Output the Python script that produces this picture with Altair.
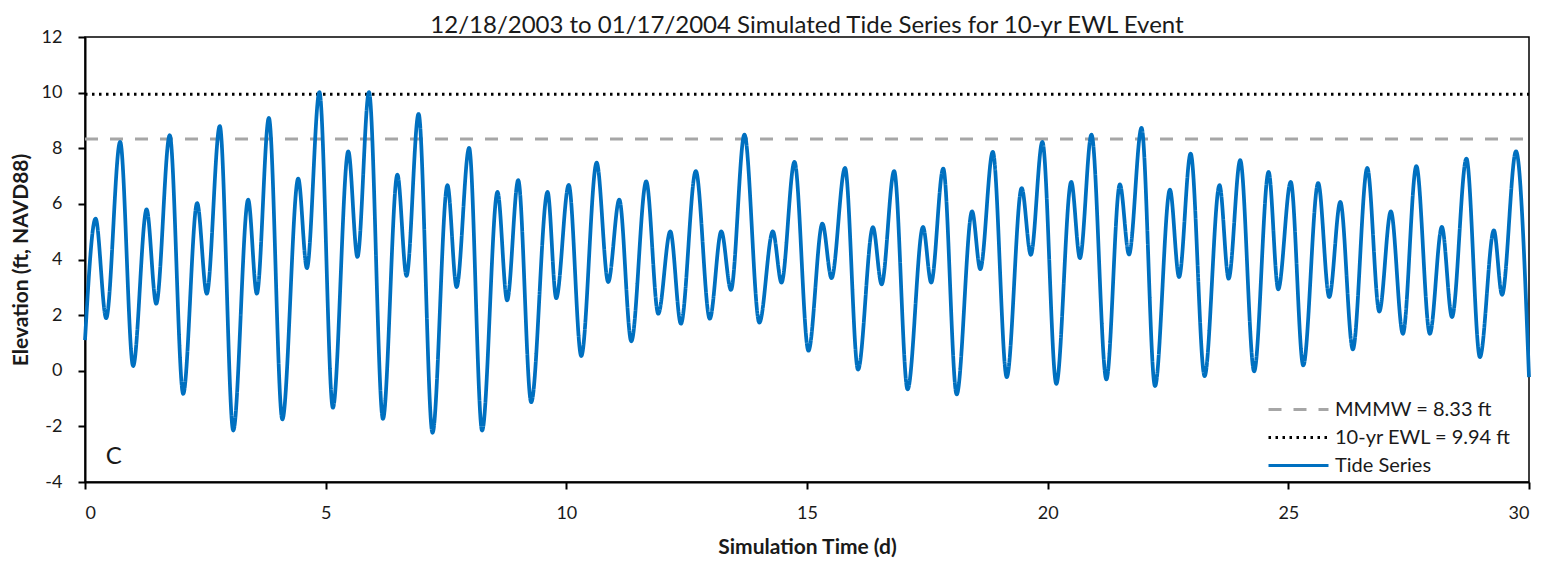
import altair as alt
import pandas as pd

chart_title = "12/18/2003 to 01/17/2004 Simulated Tide Series for 10-yr EWL Event"

# Tide series turning points (time in days, elevation in ft NAVD88)
time_d = [0.00, 0.22, 0.44, 0.73, 1.00, 1.28, 1.48, 1.76, 2.04, 2.33,
          2.53, 2.80, 3.08, 3.39, 3.57, 3.82, 4.10, 4.43, 4.61, 4.87,
          5.15, 5.47, 5.66, 5.90, 6.19, 6.49, 6.68, 6.93, 7.22, 7.53,
          7.72, 7.98, 8.25, 8.57, 8.77, 9.00, 9.27, 9.61, 9.79, 10.05,
          10.31, 10.63, 10.87, 11.10, 11.35, 11.66, 11.91, 12.16, 12.38, 12.69,
          12.98, 13.22, 13.42, 13.70, 14.01, 14.29, 14.47, 14.74, 15.03, 15.32,
          15.51, 15.79, 16.06, 16.37, 16.55, 16.81, 17.09, 17.41, 17.58, 17.83,
          18.11, 18.43, 18.60, 18.86, 19.15, 19.46, 19.65, 19.89, 20.18, 20.49,
          20.67, 20.91, 21.22, 21.50, 21.69, 21.95, 22.23, 22.54, 22.73, 22.97,
          23.26, 23.57, 23.76, 24.00, 24.29, 24.59, 24.79, 25.05, 25.31, 25.62,
          25.85, 26.08, 26.34, 26.64, 26.89, 27.13, 27.38, 27.66, 27.94, 28.19,
          28.40, 28.70, 28.98, 29.27, 29.44, 29.73, 30.00]

elev_ft = [1.10, 5.47, 1.89, 8.23, 0.17, 5.80, 2.41, 8.47, -0.83, 6.03,
           2.77, 8.80, -2.15, 6.15, 2.77, 9.09, -1.75, 6.91, 3.69, 10.02,
           -1.33, 7.89, 4.09, 10.02, -1.73, 7.05, 3.41, 9.24, -2.23, 6.67,
           3.01, 8.01, -2.15, 6.43, 2.53, 6.85, -1.13, 6.43, 2.61, 6.68,
           0.53, 7.48, 3.19, 6.15, 1.06, 6.81, 2.05, 5.01, 1.69, 7.18,
           1.87, 5.01, 2.91, 8.49, 1.73, 5.01, 3.17, 7.51, 0.72, 5.29,
           3.33, 7.29, 0.04, 5.16, 3.11, 7.18, -0.67, 5.17, 3.17, 7.27,
           -0.85, 5.73, 3.65, 7.87, -0.23, 6.57, 4.17, 8.23, -0.47, 6.79,
           4.05, 8.49, -0.31, 6.70, 4.18, 8.73, -0.55, 6.51, 3.37, 7.81,
           -0.19, 6.67, 3.31, 7.57, -0.02, 7.15, 2.93, 6.79, 0.19, 6.75,
           2.65, 6.07, 0.77, 7.29, 2.13, 5.73, 1.33, 7.36, 1.33, 5.17,
           1.93, 7.63, 0.49, 5.05, 2.73, 7.89, -0.23]

mmmw_ft = 8.33
ewl_ft = 9.94
x_span = [0, 30]

series_names = ["MMMW = 8.33 ft", "10-yr EWL = 9.94 ft", "Tide Series"]
series_colors = ["#A6A6A6", "#000000", "#0070C0"]
series_dash = [[13, 12], [2.5, 4.5], [1, 0]]

panel_label = ["C"]
panel_label_x = [0.6]
panel_label_y = [-3.1]

x_ticks = [0, 5, 10, 15, 20, 25, 30]
y_ticks = [-4, -2, 0, 2, 4, 6, 8, 10, 12]

rows = []
for t in x_span:
    rows.append({"t": t, "elev": mmmw_ft, "series": series_names[0]})
for t in x_span:
    rows.append({"t": t, "elev": ewl_ft, "series": series_names[1]})
for t, e in zip(time_d, elev_ft):
    rows.append({"t": t, "elev": e, "series": series_names[2]})
df = pd.DataFrame(rows)

FONT = "Lato"
TXT = "#1a1a1a"

legend_opts = dict(title=None, orient="none", legendX=1182, legendY=361,
                   symbolType="M -1 0 L 5 0", symbolSize=400, symbolStrokeWidth=3,
                   labelFontSize=20, labelFont=FONT, labelColor=TXT,
                   labelOffset=45, labelLimit=400, rowPadding=6, padding=0)

x_enc = alt.X("t:Q", scale=alt.Scale(domain=[0, 30], nice=False),
              axis=alt.Axis(values=x_ticks, title="Simulation Time (d)"))
y_enc = alt.Y("elev:Q", scale=alt.Scale(domain=[-4, 12], nice=False),
              axis=alt.Axis(values=y_ticks, title="Elevation (ft, NAVD88)",
                            labelExpr="'' + datum.value"))
color_enc = alt.Color("series:N",
                      scale=alt.Scale(domain=series_names, range=series_colors),
                      legend=alt.Legend(**legend_opts))
dash_enc = alt.StrokeDash("series:N",
                          scale=alt.Scale(domain=series_names, range=series_dash),
                          legend=alt.Legend(**legend_opts))

base = alt.Chart(df).encode(x=x_enc, y=y_enc, color=color_enc, strokeDash=dash_enc)

ref_lines = base.transform_filter(
    alt.FieldOneOfPredicate(field="series", oneOf=series_names[:2])
).mark_line(strokeWidth=3)

tide = base.transform_filter(
    alt.FieldEqualPredicate(field="series", equal=series_names[2])
).mark_line(strokeWidth=3.75, interpolate="monotone")

label_df = pd.DataFrame({"t": panel_label_x, "elev": panel_label_y, "txt": panel_label})
label = alt.Chart(label_df).mark_text(font=FONT, fontSize=24, color=TXT,
                                      align="center", baseline="middle").encode(
    x="t:Q", y="elev:Q", text="txt:N")

chart = alt.layer(ref_lines, tide, label).properties(
    width=1444, height=445,
    title=alt.TitleParams(chart_title, font=FONT, fontSize=24, fontWeight="normal",
                          color=TXT, anchor="middle", offset=-10),
    padding={"left": 2, "right": 5, "top": 6, "bottom": 5},
).configure_view(stroke="#000000", strokeWidth=1.5).configure_axis(
    grid=False, domainColor="#000000", domainWidth=2, tickColor="#000000",
    tickWidth=2, tickSize=7, labelFont=FONT, labelFontSize=18,
    labelColor=TXT, titleFont=FONT, titleFontSize=21, titleFontWeight="bold",
    titleColor=TXT,
).configure_axisY(labelPadding=16, titlePadding=10).configure_axisX(
    labelPadding=15, titlePadding=14)

chart.save("out.html", embed_options={"renderer": "svg", "actions": False})
